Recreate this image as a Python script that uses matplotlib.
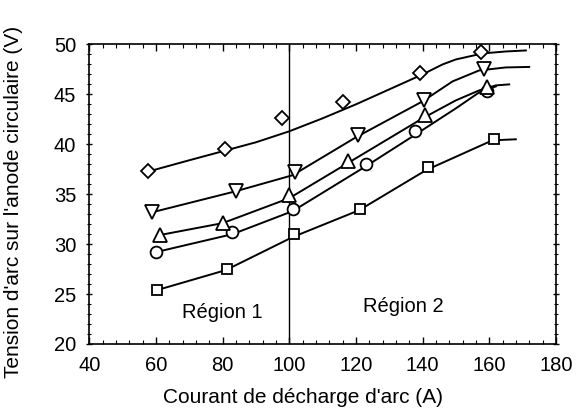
import matplotlib
matplotlib.use("Agg")
import matplotlib.pyplot as plt
from matplotlib.ticker import MultipleLocator

plt.rcParams["font.family"] = ["Liberation Sans", "DejaVu Sans"]

# measured points (courant A, tension V)
diamond_x = [57.7, 80.7, 97.8, 116.1, 139.2, 157.6]
diamond_y = [37.35, 39.5, 42.6, 44.25, 47.1, 49.26]
vtri_x = [58.9, 84.0, 101.8, 120.5, 140.3, 158.3]
vtri_y = [33.25, 35.35, 37.25, 40.9, 44.4, 47.5]
utri_x = [61.2, 80.2, 100.0, 117.5, 140.8, 159.3]
utri_y = [30.9, 32.14, 34.9, 38.35, 42.9, 45.7]
circle_x = [60.0, 82.8, 101.2, 123.0, 137.8, 159.3]
circle_y = [29.24, 31.24, 33.5, 38.0, 41.35, 45.3]
square_x = [60.4, 81.2, 101.5, 121.1, 141.5, 161.3]
square_y = [25.4, 27.48, 31.0, 33.5, 37.7, 40.5]

# fitted curves
diamond_fit_x = [58, 70, 80, 90, 100, 110, 120, 130, 140, 146, 150, 158, 165, 171]
diamond_fit_y = [37.3, 38.4, 39.3, 40.2, 41.3, 42.6, 44.0, 45.5, 47.0, 48.0, 48.5, 49.1, 49.3, 49.4]
vtri_fit_x = [59, 84, 101, 120, 140, 149, 157, 165, 172]
vtri_fit_y = [33.2, 35.3, 36.9, 40.7, 44.3, 46.3, 47.4, 47.7, 47.75]
utri_fit_x = [61, 80, 100, 118, 140, 150, 157, 162, 166]
utri_fit_y = [30.9, 32.1, 34.6, 38.2, 42.6, 44.4, 45.4, 45.9, 46.0]
circle_fit_x = [60, 83, 101, 123, 138, 150, 157, 162]
circle_fit_y = [29.2, 31.0, 33.3, 37.8, 41.0, 43.6, 45.2, 45.8]
square_fit_x = [60.4, 81, 101, 121, 141, 161, 168]
square_fit_y = [25.4, 27.4, 30.7, 33.4, 37.4, 40.4, 40.5]

fig = plt.figure(figsize=(5.76, 4.08), dpi=100)
ax = fig.add_axes([0.155, 0.157, 0.81, 0.734])

fits = [
    (diamond_fit_x, diamond_fit_y),
    (vtri_fit_x, vtri_fit_y),
    (utri_fit_x, utri_fit_y),
    (circle_fit_x, circle_fit_y),
    (square_fit_x, square_fit_y),
]
for fx, fy in fits:
    ax.plot(fx, fy, color="black", lw=1.4, zorder=2)

# circles first so the triangles sit on top where they overlap
series = [
    (circle_x, circle_y, "o", 8.5),
    (square_x, square_y, "s", 7.5),
    (diamond_x, diamond_y, "D", 7.5),
    (utri_x, utri_y, "^", 10),
    (vtri_x, vtri_y, "v", 10),
]
for sx, sy, m, ms in series:
    ax.plot(sx, sy, ls="none", marker=m, ms=ms, mfc="white", mec="black",
            mew=1.3, zorder=3)

ax.axvline(100, color="black", lw=1.0, zorder=1)

ax.text(80, 23.1, "Région 1", ha="center", va="center", fontsize=14.5)
ax.text(134.2, 23.75, "Région 2", ha="center", va="center", fontsize=14.5)

ax.set_xlim(40, 180)
ax.set_ylim(20, 50)
ax.xaxis.set_major_locator(MultipleLocator(20))
ax.xaxis.set_minor_locator(MultipleLocator(4))
ax.yaxis.set_major_locator(MultipleLocator(5))
ax.yaxis.set_minor_locator(MultipleLocator(1))
ax.tick_params(which="both", direction="in", top=True, right=True, labelsize=14.5)
ax.tick_params(axis="y", which="both", direction="inout")
ax.tick_params(which="major", length=5, width=1.0)
ax.tick_params(which="minor", length=3, width=0.8)
ax.tick_params(axis="x", which="major", pad=9)
ax.tick_params(axis="y", which="major", pad=7)
for s in ax.spines.values():
    s.set_linewidth(1.2)

ax.set_xlabel("Courant de décharge d'arc (A)", fontsize=15)
ax.set_ylabel("Tension d'arc sur l'anode circulaire (V)", fontsize=15)
ax.xaxis.set_label_coords(0.458, -0.147)
ax.yaxis.set_label_coords(-0.142, 0.475)

fig.savefig("out.png", dpi=100)
